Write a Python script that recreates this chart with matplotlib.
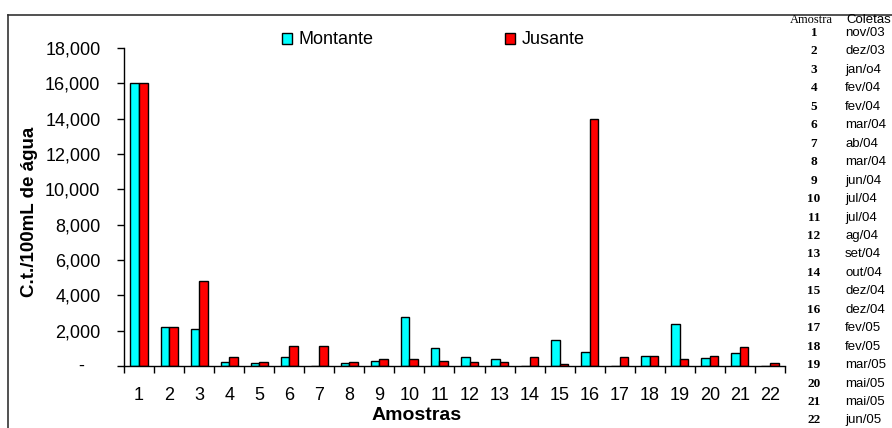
import matplotlib.pyplot as plt
from matplotlib.lines import Line2D
from matplotlib.patches import Patch
from matplotlib.ticker import FuncFormatter, MultipleLocator
import numpy as np

amostras = list(range(1, 23))
montante = [16000, 2200, 2100, 250, 150, 500, 0, 150, 300, 2750, 1000,
            500, 400, 0, 1500, 800, 0, 550, 2350, 450, 750, 0]
jusante = [16000, 2200, 4800, 500, 250, 1150, 1150, 250, 400, 400, 300,
           250, 250, 500, 100, 14000, 500, 550, 400, 550, 1100, 150]
coletas = ['nov/03', 'dez/03', 'jan/o4', 'fev/04', 'fev/04', 'mar/04',
           'ab/04', 'mar/04', 'jun/04', 'jul/04', 'jul/04', 'ag/04',
           'set/04', 'out/04', 'dez/04', 'dez/04', 'fev/05', 'fev/05',
           'mar/05', 'mai/05', 'mai/05', 'jun/05']

plt.rcParams['font.family'] = ['Liberation Sans', 'DejaVu Sans']

W, H = 892, 428
fig = plt.figure(figsize=(W / 100, H / 100), dpi=100)
ax = fig.add_axes([124 / W, 1 - 366 / H, (785 - 124) / W, (366 - 48) / H])

x = np.array(amostras)
bw = 0.285
ax.bar(x - bw / 2, montante, bw, color='#00FFFF', edgecolor='black', linewidth=1)
ax.bar(x + bw / 2, jusante, bw, color='#FF0000', edgecolor='black', linewidth=1)

ax.set_xlim(0.5, 22.5)
ax.set_ylim(0, 18000)
ax.yaxis.set_major_locator(MultipleLocator(2000))
# zero is written as a dash further left, like an accounting format
ax.yaxis.set_major_formatter(FuncFormatter(lambda v, p: '' if v == 0 else '{:,.0f}'.format(v)))
ax.text(81 / W, 1 - 366 / H, '-', transform=fig.transFigure, fontsize=13,
        ha='center', va='center')
ax.set_xticks(x)
ax.set_xticks(np.arange(0.5, 23, 1), minor=True)
ax.tick_params(axis='x', which='major', length=0, pad=15, labelsize=13)
ax.tick_params(axis='x', which='minor', length=5, width=1, direction='out')
ax.tick_params(axis='y', length=5, width=1, direction='out', pad=12, labelsize=13)

for s in ['top', 'right']:
    ax.spines[s].set_visible(False)
for s in ['left', 'bottom']:
    ax.spines[s].set_linewidth(1)

fig.text(30 / W, 1 - 212 / H, 'C.t./100mL de água', rotation=90, fontsize=13.5,
         fontweight='bold', ha='center', va='center')
fig.text(417 / W, 1 - 415 / H, 'Amostras', fontsize=14, fontweight='bold',
         ha='center', va='center')

handles = [Patch(facecolor='#00FFFF', edgecolor='black', label='Montante'),
           Patch(facecolor='#FF0000', edgecolor='black', label='Jusante')]
fig.legend(handles=handles, loc='center left', bbox_to_anchor=(282 / W, 1 - 40 / H),
           ncol=2, frameon=False, fontsize=13, handlelength=0.55, handleheight=0.55,
           handletextpad=0.35, columnspacing=7.3, borderpad=0, borderaxespad=0)

# outer frame
fig.add_artist(Line2D([8 / W, 1], [1 - 15 / H, 1 - 15 / H], color='#333333', lw=1.2))
fig.add_artist(Line2D([8 / W, 8 / W], [0, 1 - 15 / H], color='#333333', lw=1.2))

# sampling dates table
fig.text(790 / W, 1 - 20 / H, 'Amostra', family='Liberation Serif', fontsize=9,
         ha='left', va='center')
fig.text(891 / W, 1 - 20 / H, 'Coletas', fontsize=9.5, ha='right', va='center')
for i, (a, c) in enumerate(zip(amostras, coletas)):
    yy = 1 - (33 + i * 18.45) / H
    fig.text(814 / W, yy, str(a), family='Liberation Serif', fontweight='bold',
             fontsize=9.5, ha='center', va='center')
    fig.text(845 / W, yy, c, fontsize=9.5, ha='left', va='center')

fig.savefig('out.png', dpi=100)
